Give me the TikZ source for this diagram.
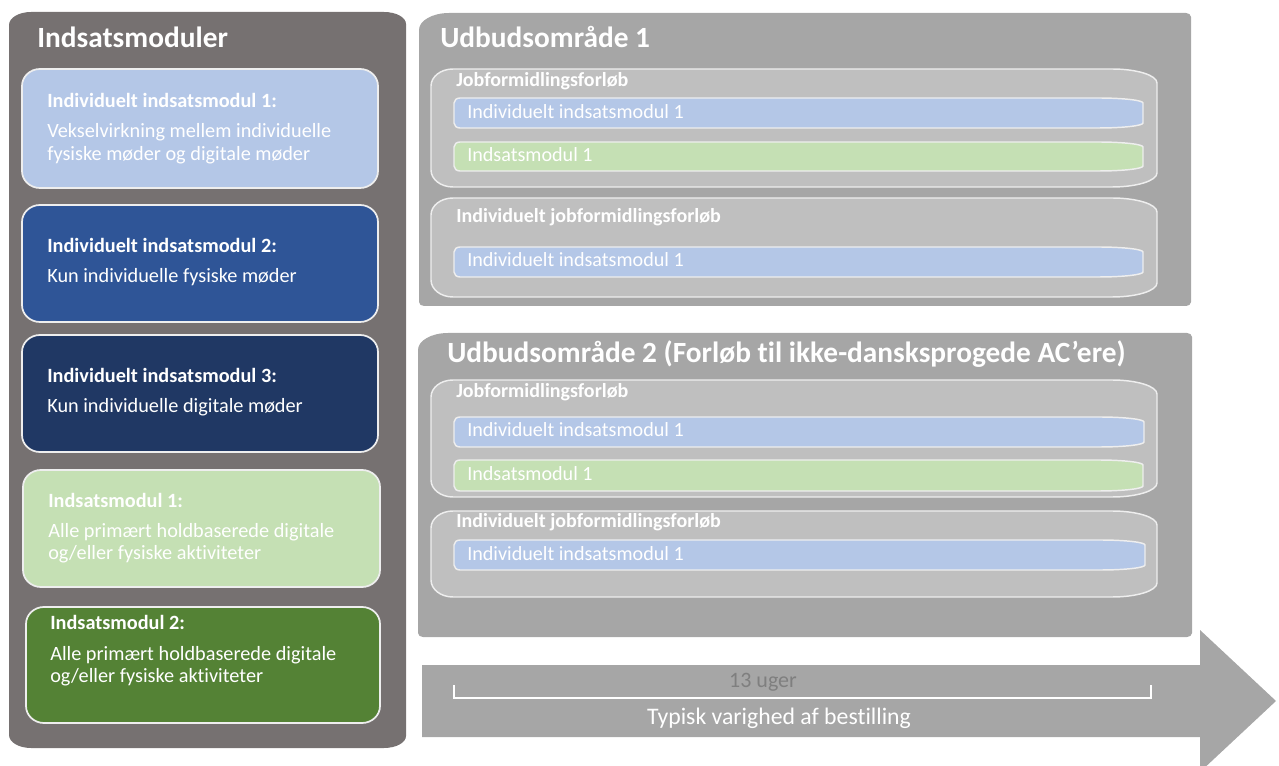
\documentclass[tikz,border=0pt]{standalone}
\usepackage{fontspec}
\setmainfont{Carlito}[Ligatures={NoCommon}]
\definecolor{panelL}{HTML}{767171}
\definecolor{lblue}{HTML}{B4C7E7}
\definecolor{mblue}{HTML}{2F5597}
\definecolor{dblue}{HTML}{203864}
\definecolor{lgreen}{HTML}{C5E0B4}
\definecolor{dgreen}{HTML}{548235}
\definecolor{pgray}{HTML}{A6A6A6}
\definecolor{cgray}{HTML}{BFBFBF}
\definecolor{edgec}{HTML}{EEEEEE}
\definecolor{ugray}{HTML}{7F7F7F}
% options, x1, y1, x2, y2, rx left, ry left, rx right, ry right
\newcommand\rrbox[9]{%
  \path[#1] (#2,#3+#7) arc[start angle=180,end angle=270,x radius=#6,y radius=#7]
    -- (#4-#8,#3) arc[start angle=270,end angle=360,x radius=#8,y radius=#9]
    -- (#4,#5-#9) arc[start angle=0,end angle=90,x radius=#8,y radius=#9]
    -- (#2+#6,#5) arc[start angle=90,end angle=180,x radius=#6,y radius=#7]
    -- cycle;}
\begin{document}
\begin{tikzpicture}[x=0.75pt,y=-0.75pt,
  ttl/.style={anchor=base west,inner sep=0,text=white,font=\fontsize{22}{26}\selectfont\bfseries},
  hd/.style={anchor=base west,inner sep=0,text=white,font=\fontsize{15.2}{18}\selectfont\bfseries},
  bd/.style={anchor=base west,inner sep=0,text=white,font=\fontsize{15.2}{18}\selectfont},
  lbl/.style={anchor=base west,inner sep=0,text=white,font=\fontsize{15}{18}\selectfont\bfseries},
  bartxt/.style={anchor=base west,inner sep=0,text=white,font=\fontsize{15.1}{18}\selectfont},
  modline/.style={draw=edgec,line width=1.3pt},
  inline/.style={draw=edgec,line width=1.1pt}
]
\useasboundingbox (0,0) rectangle (1279,766);
\clip (0,0) rectangle (1279,766);

% ---------- left panel ----------
\rrbox{fill=panelL}{9}{12}{406}{748}{22}{13}{22}{12}
\node[ttl] (tl) at (37,48) {Indsatsmoduler};

\rrbox{fill=lblue,modline}{22}{69}{378}{188}{18}{17}{18}{17}
\node[hd] (m1h) at (47,108) {Individuelt indsatsmodul 1:};
\node[bd] (m1a) at (47,138) {Vekselvirkning mellem individuelle};
\node[bd] (m1b) at (47,161) {fysiske møder og digitale møder};

\rrbox{fill=mblue,modline}{22}{205}{378}{322}{18}{17}{18}{17}
\node[hd] (m2h) at (47,253) {Individuelt indsatsmodul 2:};
\node[bd] (m2a) at (47,283) {Kun individuelle fysiske møder};

\rrbox{fill=dblue,modline}{22}{335}{378}{452}{18}{17}{18}{17}
\node[hd] (m3h) at (47,383) {Individuelt indsatsmodul 3:};
\node[bd] (m3a) at (47,413) {Kun individuelle digitale møder};

\rrbox{fill=lgreen,modline}{23}{470}{380}{587}{18}{17}{18}{17}
\node[hd] (m4h) at (48,508) {Indsatsmodul 1:};
\node[bd] (m4a) at (48,538) {Alle primært holdbaserede digitale};
\node[bd] (m4b) at (48,560) {og/eller fysiske aktiviteter};

\rrbox{fill=dgreen,modline}{26}{607}{380}{723}{18}{17}{18}{17}
\node[hd] (m5h) at (50,629) {Indsatsmodul 2:};
\node[bd] (m5a) at (50,660) {Alle primært holdbaserede digitale};
\node[bd] (m5b) at (50,682) {og/eller fysiske aktiviteter};

% ---------- Udbudsområde 1 ----------
\path[fill=pgray] (419,13+17) arc[start angle=180,end angle=270,x radius=30,y radius=17]
  -- (1186,13) arc[start angle=270,end angle=360,x radius=5,y radius=4]
  -- (1191,302) arc[start angle=0,end angle=90,x radius=5,y radius=4]
  -- (424,306) arc[start angle=90,end angle=180,x radius=5,y radius=4] -- cycle;
\node[ttl] (u1) at (440,48) {Udbudsområde 1};

\rrbox{fill=cgray,inline}{431}{69}{1157}{187}{22}{17}{45}{14}
\node[lbl] (u1c1) at (456,87) {Jobformidlingsforløb};
\rrbox{fill=lblue,inline}{454}{98}{1143}{128}{6}{5}{45}{5}
\node[bartxt] (u1b1) at (467,119) {Individuelt indsatsmodul 1};
\rrbox{fill=lgreen,inline}{454}{142}{1143}{171}{6}{5}{45}{5}
\node[bartxt] (u1b2) at (467,162) {Indsatsmodul 1};

\rrbox{fill=cgray,inline}{431}{198}{1157}{297}{22}{17}{45}{14}
\node[lbl] (u1c2) at (456,223) {Individuelt jobformidlingsforløb};
\rrbox{fill=lblue,inline}{454}{247}{1143}{277}{6}{5}{45}{5}
\node[bartxt] (u1b3) at (467,267) {Individuelt indsatsmodul 1};

% ---------- Udbudsområde 2 ----------
\path[fill=pgray] (418,333+17) arc[start angle=180,end angle=270,x radius=30,y radius=17]
  -- (1187,333) arc[start angle=270,end angle=360,x radius=5,y radius=4]
  -- (1192,633) arc[start angle=0,end angle=90,x radius=5,y radius=4]
  -- (423,637) arc[start angle=90,end angle=180,x radius=5,y radius=4] -- cycle;
\node[ttl] (u2) at (447,363) {Udbudsområde 2 (Forløb til ikke-dansksprogede AC’ere)};

\rrbox{fill=cgray,inline}{431}{380}{1157}{497}{22}{17}{45}{14}
\node[lbl] (u2c1) at (456,398) {Jobformidlingsforløb};
\rrbox{fill=lblue,inline}{454}{417}{1144}{447}{6}{5}{45}{5}
\node[bartxt] (u2b1) at (467,437) {Individuelt indsatsmodul 1};
\rrbox{fill=lgreen,inline}{454}{460}{1143}{491}{6}{5}{45}{5}
\node[bartxt] (u2b2) at (467,481) {Indsatsmodul 1};

\rrbox{fill=cgray,inline}{431}{511}{1157}{597}{22}{17}{45}{14}
\node[lbl] (u2c2) at (456,528) {Individuelt jobformidlingsforløb};
\rrbox{fill=lblue,inline}{454}{540}{1145}{570}{6}{5}{45}{5}
\node[bartxt] (u2b3) at (467,561) {Individuelt indsatsmodul 1};

% ---------- time arrow ----------
\fill[pgray] (422,665) -- (1200,665) -- (1200,630) -- (1276,701) -- (1200,772)
  -- (1200,737) -- (422,737) -- cycle;
\coordinate (bl) at (454,685);
\coordinate (br) at (1151,685);
\draw[white,line width=2.2pt] (bl) -- ++(0,13) -| (br);
\node[anchor=base,inner sep=0,text=ugray,font=\fontsize{16.5}{20}\selectfont] (uger) at (763,687) {13 uger};
\node[anchor=base,inner sep=0,text=white,font=\fontsize{17.8}{21}\selectfont] (typ) at (779,724) {Typisk varighed af bestilling};
\end{tikzpicture}
\end{document}
